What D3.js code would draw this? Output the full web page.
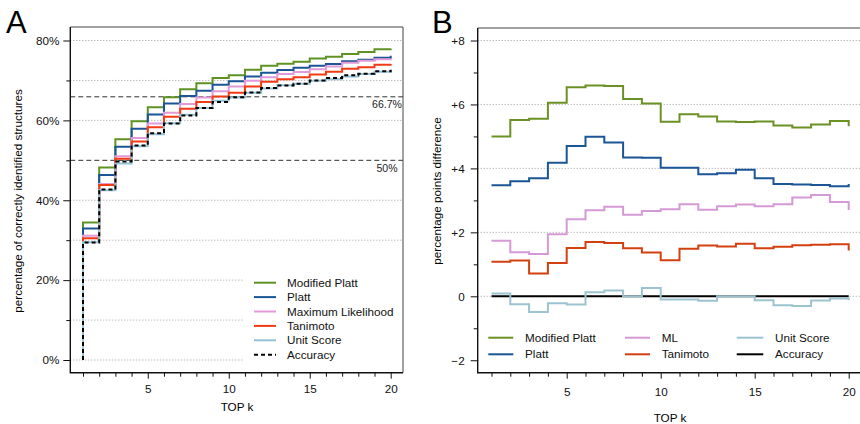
<!DOCTYPE html>
<html><head><meta charset="utf-8">
<script src="https://cdn.jsdelivr.net/npm/d3@7"></script>
<style>
body{margin:0;background:#fff;}
svg{font-family:"Liberation Sans",Arial,Helvetica,sans-serif;}
</style></head>
<body><svg id="c" width="860" height="424"></svg>
<script>
// ---------- data ----------
const topK = d3.range(1, 21);
// Panel A: percentage of correctly identified structures
const accA   = [29.4,42.7,49.7,53.7,56.8,59.2,61.25,63.1,64.6,65.8,67.0,68.1,68.75,69.2,70.0,70.6,71.3,71.7,72.3,72.7];
const unitA  = [29.5,42.5,49.2,53.5,56.5,59.3,61.4,63.1,64.9,65.7,66.9,68.0,68.8,69.2,69.9,70.3,71.0,71.6,72.2,72.6];
const tanA   = [30.5,43.8,50.4,54.7,58.3,60.9,62.9,64.6,66.0,66.9,68.5,69.7,70.3,70.8,71.5,72.2,72.9,73.3,73.9,74.1];
const mlA    = [31.1,44.1,51.0,55.6,59.2,61.9,64.1,65.7,67.3,68.5,69.9,70.8,71.6,72.1,72.8,73.5,74.4,74.9,75.3,75.4];
const plattA = [32.9,46.3,53.4,57.9,61.5,64.2,66.1,67.4,68.9,69.8,71.0,71.9,72.6,73.2,73.7,74.1,74.8,75.2,75.7,76.2];
const mpA    = [34.4,48.2,55.3,59.8,63.3,65.8,67.8,69.3,70.6,71.3,72.7,73.7,74.2,74.7,75.5,75.9,76.6,77.1,77.8,78.0];
// Panel B: percentage points difference to Accuracy
const mpB    = [5.0,5.51,5.55,6.05,6.54,6.59,6.58,6.17,6.03,5.46,5.69,5.62,5.47,5.45,5.47,5.34,5.28,5.37,5.48,5.32];
const plattB = [3.47,3.60,3.69,4.18,4.70,4.99,4.81,4.34,4.33,4.02,4.02,3.82,3.85,3.96,3.69,3.51,3.50,3.48,3.44,3.51];
const mlB    = [1.74,1.38,1.32,1.94,2.41,2.69,2.80,2.55,2.67,2.72,2.88,2.71,2.82,2.87,2.82,2.88,3.09,3.17,2.95,2.70];
const tanB   = [1.08,1.12,0.71,1.04,1.51,1.70,1.67,1.50,1.37,1.13,1.49,1.59,1.56,1.64,1.50,1.55,1.60,1.61,1.63,1.43];
const unitB  = [0.09,-0.25,-0.49,-0.22,-0.26,0.13,0.18,0.0,0.26,-0.10,-0.10,-0.14,0.0,0.0,-0.12,-0.28,-0.30,-0.13,-0.07,-0.12];
const accB   = [0,0,0,0,0,0,0,0,0,0,0,0,0,0,0,0,0,0,0,0];

const yTicksA = [0,20,40,60,80], yMinorA = [10,30,50,70];
const yTicksB = [-2,0,2,4,6,8], yMinorB = [-1,1,3,5,7];
const xTicks = [5,10,15,20];
const refLines = [{v:50,label:"50%"},{v:65.9,label:"66.7%"}];
const legendA = ["Modified Platt","Platt","Maximum Likelihood","Tanimoto","Unit Score","Accuracy"];
const legendB = ["Modified Platt","Platt","ML","Tanimoto","Unit Score","Accuracy"];

const colA = {mp:"#5e9324", platt:"#1b5596", ml:"#e29ad8", tan:"#f23a14", unit:"#93c4d6", acc:"#000"};
const colB = {mp:"#6b9124", platt:"#1b5596", ml:"#d59ad6", tan:"#d2400f", unit:"#9cc3d0", acc:"#000"};

const svg = d3.select("#c");
const fs = 11.7;

// ---------- Panel A ----------
(function(){
  const x = d3.scaleLinear().domain([1,20]).range([83,390.7]);
  const y = d3.scaleLinear().domain([0,80]).range([360,40.5]);
  const L = 70.3, R = 403, T = 27, B = 372.7;
  const g = svg.append("g");
  g.selectAll(".gr").data(d3.range(0,81,10).filter(v=>v!==50)).join("line")
    .attr("x1",L).attr("x2",R).attr("y1",d=>y(d)).attr("y2",d=>y(d))
    .attr("stroke","#888").attr("stroke-width",0.8).attr("stroke-dasharray","1,2");
  refLines.forEach(r=>{
    g.append("line").attr("x1",L).attr("x2",R).attr("y1",y(r.v)).attr("y2",y(r.v))
      .attr("stroke","#333").attr("stroke-width",1).attr("stroke-dasharray","5,3");
    g.append("text").attr("x",387).attr("y",y(r.v)+11.5).attr("text-anchor","middle")
      .attr("font-size",10.5).attr("fill","#222").text(r.label);
  });
  const line = d3.line().x(d=>x(d[0])).y(d=>y(d[1])).curve(d3.curveStepAfter);
  const pts = arr => [[1,0]].concat(arr.map((v,i)=>[topK[i],v]));
  const series = [
    {d:mpA,c:colA.mp},{d:plattA,c:colA.platt},{d:mlA,c:colA.ml},{d:tanA,c:colA.tan},
    {d:unitA,c:colA.unit},{d:accA,c:colA.acc,dash:"4,3"}];
  series.forEach(s=>{
    g.append("path").attr("d",line(pts(s.d))).attr("fill","none").attr("stroke",s.c)
      .attr("stroke-width",2).attr("stroke-dasharray",s.dash||null);
  });
  g.append("rect").attr("x",244).attr("y",273).attr("width",R-244-1).attr("height",92).attr("fill","#fff");
  const lc = [colA.mp,colA.platt,colA.ml,colA.tan,colA.unit,colA.acc];
  legendA.forEach((t,i)=>{
    const yy = 282.7 + i*14.4;
    g.append("line").attr("x1",254).attr("x2",276).attr("y1",yy).attr("y2",yy)
      .attr("stroke",lc[i]).attr("stroke-width",2).attr("stroke-dasharray",i===5?"4,3":null);
    g.append("text").attr("x",287).attr("y",yy+4).attr("font-size",fs).attr("fill","#111").text(t);
  });
  g.append("path").attr("d",`M${L},${T}H${R}V${B}`).attr("fill","none").attr("stroke","#444").attr("stroke-width",1);
  g.append("path").attr("d",`M${L},${T}V${B}H${R}`).attr("fill","none").attr("stroke","#111").attr("stroke-width",1.4);
  const ay = g.append("g").attr("transform",`translate(${L},0)`)
    .call(d3.axisLeft(y).tickValues(yTicksA).tickSize(7).tickPadding(4).tickFormat(d=>d+"%"));
  const ay2 = g.append("g").attr("transform",`translate(${L},0)`)
    .call(d3.axisLeft(y).tickValues(yMinorA).tickSize(4).tickFormat(""));
  const ax = g.append("g").attr("transform",`translate(0,${B})`)
    .call(d3.axisBottom(x).tickValues(xTicks).tickSize(6).tickPadding(6));
  const ax2 = g.append("g").attr("transform",`translate(0,${B})`)
    .call(d3.axisBottom(x).tickValues(topK.filter(k=>!xTicks.includes(k))).tickSize(4).tickFormat(""));
  [ay,ay2,ax,ax2].forEach(a=>{a.select(".domain").remove();a.selectAll("text").attr("font-size",fs).attr("fill","#111").attr("font-family",null);a.selectAll("line").attr("stroke","#111");});
  g.append("text").attr("x",237).attr("y",410.5).attr("text-anchor","middle").attr("font-size",fs).text("TOP k");
  g.append("text").attr("transform","translate(22,201) rotate(-90)").attr("text-anchor","middle").attr("font-size",fs).text("percentage of correctly identified structures");
  g.append("text").attr("x",6).attr("y",33).attr("font-size",31).text("A");
})();

// ---------- Panel B ----------
(function(){
  const x = d3.scaleLinear().domain([1,20]).range([491.5,848.7]);
  const y = d3.scaleLinear().domain([0,8]).range([296.3,40.5]);
  const L = 477.7, R = 870, T = 28, B = 372.7;
  const g = svg.append("g");
  g.selectAll(".gr").data(yTicksB).join("line")
    .attr("x1",L).attr("x2",R).attr("y1",d=>y(d)).attr("y2",d=>y(d))
    .attr("stroke","#888").attr("stroke-width",0.8).attr("stroke-dasharray","1,2");
  const line = d3.line().x(d=>x(d[0])).y(d=>y(d[1])).curve(d3.curveStepAfter);
  const pts = arr => arr.map((v,i)=>[topK[i],v]);
  const series = [
    {d:accB,c:colB.acc},{d:unitB,c:colB.unit},{d:tanB,c:colB.tan},
    {d:mlB,c:colB.ml},{d:plattB,c:colB.platt},{d:mpB,c:colB.mp}];
  series.forEach(s=>{
    g.append("path").attr("d",line(pts(s.d))).attr("fill","none").attr("stroke",s.c).attr("stroke-width",2);
  });
  g.append("rect").attr("x",L+1).attr("y",328).attr("width",R-L).attr("height",38).attr("fill","#fff");
  const lc = [colB.mp,colB.platt,colB.ml,colB.tan,colB.unit,colB.acc];
  const cx = [[488.3,513.3,525],[625,650,661.7],[736.7,763.3,775]];
  legendB.forEach((t,i)=>{
    const c = Math.floor(i/2), r = i%2;
    const yy = 337.7 + r*16.6;
    g.append("line").attr("x1",cx[c][0]).attr("x2",cx[c][1]).attr("y1",yy).attr("y2",yy)
      .attr("stroke",lc[i]).attr("stroke-width",2);
    g.append("text").attr("x",cx[c][2]).attr("y",yy+4).attr("font-size",fs).attr("fill","#111").text(t);
  });
  g.append("path").attr("d",`M${L},${T}H${R}`).attr("fill","none").attr("stroke","#444").attr("stroke-width",1);
  g.append("path").attr("d",`M${L},${T}V${B}H${R}`).attr("fill","none").attr("stroke","#111").attr("stroke-width",1.4);
  const fmt = d => d>0 ? "+"+d : (d<0 ? "\u2212"+(-d) : "0");
  const ay = g.append("g").attr("transform",`translate(${L},0)`)
    .call(d3.axisLeft(y).tickValues(yTicksB).tickSize(7).tickPadding(6).tickFormat(fmt));
  const ay2 = g.append("g").attr("transform",`translate(${L},0)`)
    .call(d3.axisLeft(y).tickValues(yMinorB).tickSize(4).tickFormat(""));
  const ax = g.append("g").attr("transform",`translate(0,${B})`)
    .call(d3.axisBottom(x).tickValues(xTicks).tickSize(6).tickPadding(9));
  const ax2 = g.append("g").attr("transform",`translate(0,${B})`)
    .call(d3.axisBottom(x).tickValues(topK.filter(k=>!xTicks.includes(k))).tickSize(4).tickFormat(""));
  [ay,ay2,ax,ax2].forEach(a=>{a.select(".domain").remove();a.selectAll("text").attr("font-size",fs).attr("fill","#111").attr("font-family",null);a.selectAll("line").attr("stroke","#111");});
  g.append("text").attr("x",670).attr("y",422).attr("text-anchor","middle").attr("font-size",fs).text("TOP k");
  g.append("text").attr("transform","translate(441,191) rotate(-90)").attr("text-anchor","middle").attr("font-size",fs).text("percentage points difference");
  g.append("text").attr("x",432).attr("y",33).attr("font-size",31).text("B");
})();
</script></body></html>
